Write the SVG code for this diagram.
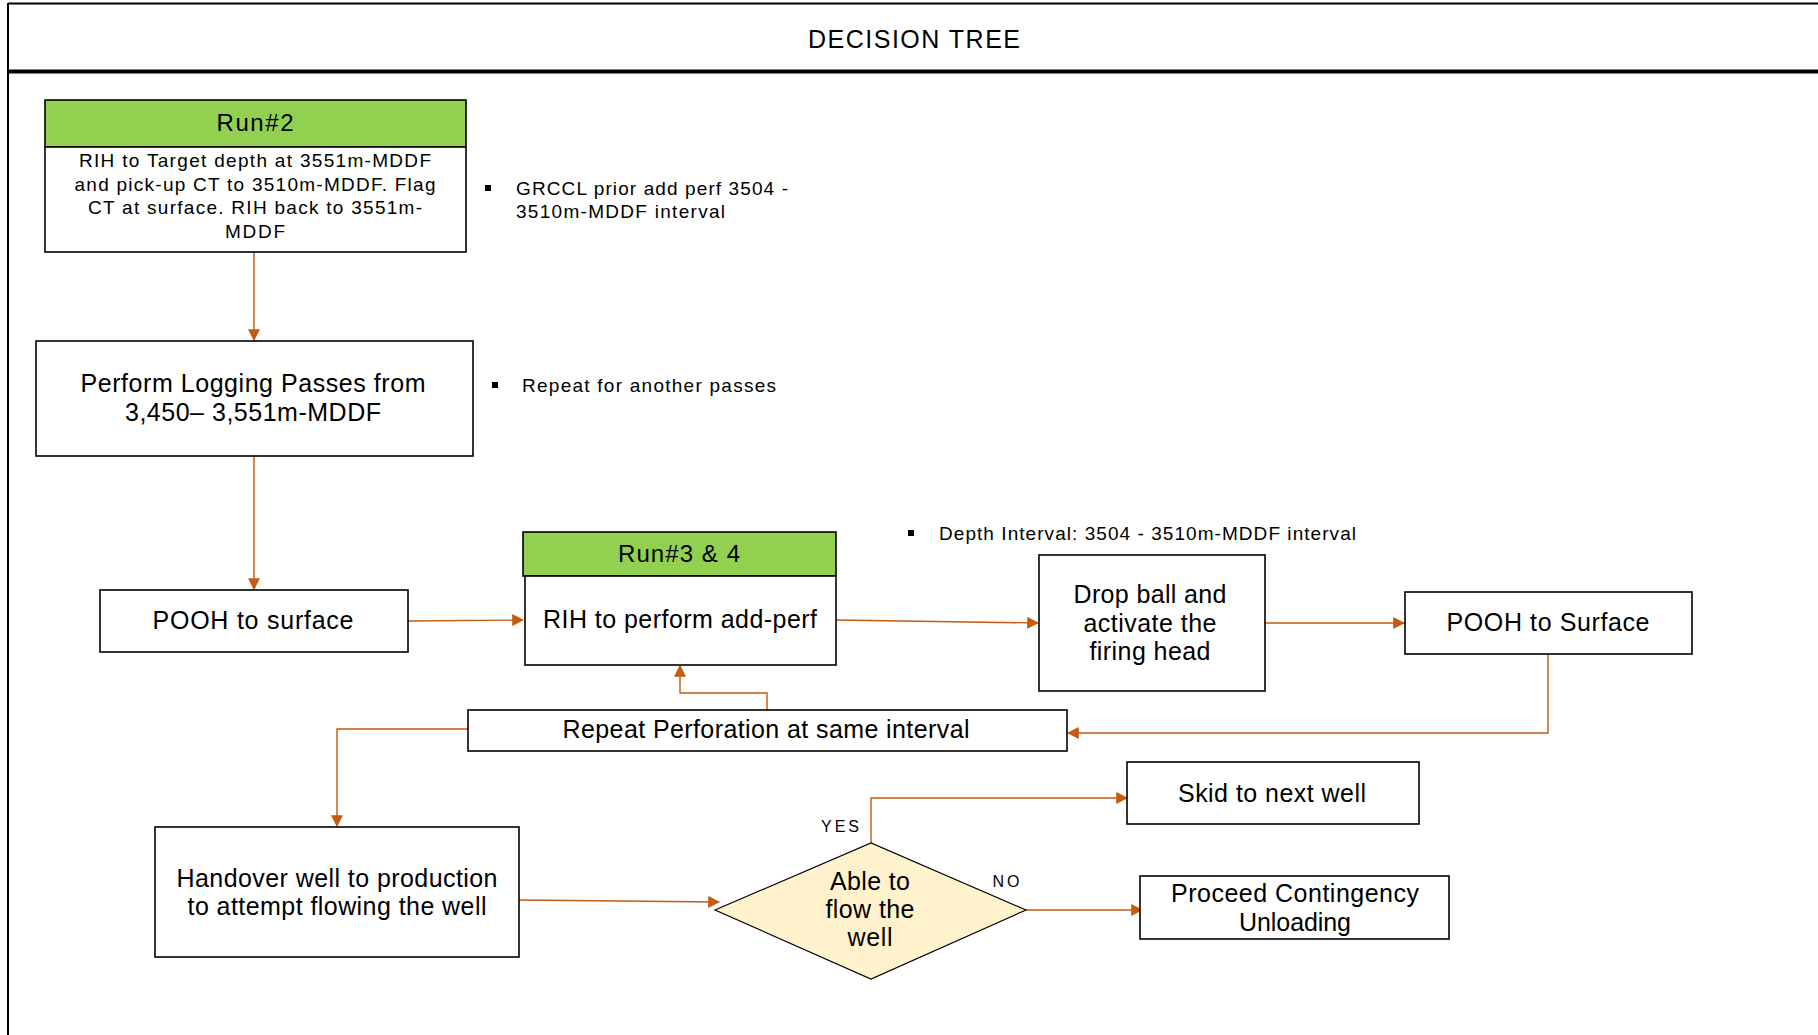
<svg xmlns="http://www.w3.org/2000/svg" width="1818" height="1035" viewBox="0 0 1818 1035">
<style>
.box{fill:#fff;stroke:#000;stroke-width:1.6}
.hdr{fill:#92D050;stroke:#000;stroke-width:1.6}
.dia{fill:#FFF2CC;stroke:#000;stroke-width:1.2}
.t{font-family:"Liberation Sans",Arial,sans-serif;fill:#000;text-anchor:middle}
.n{font-family:"Liberation Sans",Arial,sans-serif;fill:#000}
.c{fill:none;stroke:#C55A11;stroke-width:1.4}
</style>
<defs>
<marker id="ah" viewBox="0 0 10 10" refX="9" refY="5" markerWidth="12" markerHeight="12" markerUnits="userSpaceOnUse" orient="auto">
<path d="M0,0 L10,5 L0,10 z" fill="#C55A11"/>
</marker>
</defs>
<rect width="1818" height="1035" fill="#fff"/>
<g id="frame">
<line x1="8" y1="3.5" x2="1818" y2="3.5" stroke="#000" stroke-width="2"/>
<line x1="8" y1="3" x2="8" y2="1035" stroke="#000" stroke-width="2"/>
<line x1="8" y1="71.5" x2="1818" y2="71.5" stroke="#000" stroke-width="4"/>
<text class="t" x="914" y="48" font-size="25" textLength="212" lengthAdjust="spacing">DECISION TREE</text>
</g>
<g id="connectors">
<line class="c" x1="254" y1="252" x2="254" y2="340" marker-end="url(#ah)"/>
<line class="c" x1="254" y1="456" x2="254" y2="589" marker-end="url(#ah)"/>
<line class="c" x1="408" y1="621" x2="523" y2="620" marker-end="url(#ah)"/>
<line class="c" x1="836" y1="620" x2="1038" y2="623" marker-end="url(#ah)"/>
<line class="c" x1="1265" y1="623" x2="1404" y2="623" marker-end="url(#ah)"/>
<polyline class="c" points="1548,654 1548,733 1068,733" marker-end="url(#ah)"/>
<polyline class="c" points="767,710 767,693 680,693 680,666" marker-end="url(#ah)"/>
<polyline class="c" points="468,729 337,729 337,826" marker-end="url(#ah)"/>
<line class="c" x1="519" y1="900" x2="719" y2="902" marker-end="url(#ah)"/>
<polyline class="c" points="871,843 871,798 1127,798" marker-end="url(#ah)"/>
<line class="c" x1="1026" y1="910" x2="1142" y2="910" marker-end="url(#ah)"/>
<text class="t" x="840" y="832" font-size="16" textLength="38" lengthAdjust="spacing">YES</text>
<text class="t" x="1006" y="887" font-size="16" textLength="27" lengthAdjust="spacing">NO</text>
</g>
<g id="run2">
<rect class="hdr" x="45" y="100" width="421" height="47"/>
<rect class="box" x="45" y="147" width="421" height="105"/>
<text class="t" x="255" y="131" font-size="24" textLength="77" lengthAdjust="spacing">Run#2</text>
<text class="t" x="255" y="167" font-size="19" textLength="352" lengthAdjust="spacing">RIH to Target depth at 3551m-MDDF</text>
<text class="t" x="255" y="191" font-size="19" textLength="361" lengthAdjust="spacing">and pick-up CT to 3510m-MDDF. Flag</text>
<text class="t" x="255" y="214" font-size="19" textLength="334" lengthAdjust="spacing">CT at surface. RIH back to 3551m-</text>
<text class="t" x="255" y="238" font-size="19" textLength="60" lengthAdjust="spacing">MDDF</text>
</g>
<g id="note1">
<rect x="485" y="185" width="6" height="6" fill="#000"/>
<text class="n" x="516" y="195" font-size="19" textLength="272" lengthAdjust="spacing">GRCCL prior add perf 3504 -</text>
<text class="n" x="516" y="218" font-size="19" textLength="209" lengthAdjust="spacing">3510m-MDDF interval</text>
</g>
<g id="logging">
<rect class="box" x="36" y="341" width="437" height="115"/>
<text class="t" x="253" y="392" font-size="25" textLength="345" lengthAdjust="spacing">Perform Logging  Passes from</text>
<text class="t" x="253" y="421" font-size="25" textLength="256" lengthAdjust="spacing">3,450– 3,551m-MDDF</text>
</g>
<g id="note2">
<rect x="492" y="382" width="6" height="6" fill="#000"/>
<text class="n" x="522" y="392" font-size="19" textLength="254" lengthAdjust="spacing">Repeat for another passes</text>
</g>
<g id="pooh1">
<rect class="box" x="100" y="590" width="308" height="62"/>
<text class="t" x="253" y="629" font-size="25" textLength="201" lengthAdjust="spacing">POOH to surface</text>
</g>
<g id="run34">
<rect class="hdr" x="523" y="532" width="313" height="44"/>
<rect class="box" x="525" y="576" width="311" height="89"/>
<text class="t" x="679" y="562" font-size="24" textLength="122" lengthAdjust="spacing">Run#3 &amp; 4</text>
<text class="t" x="680" y="628" font-size="25" textLength="274" lengthAdjust="spacing">RIH to perform add-perf</text>
</g>
<g id="note3">
<rect x="908" y="530" width="6" height="6" fill="#000"/>
<text class="n" x="939" y="540" font-size="19" textLength="417" lengthAdjust="spacing">Depth Interval: 3504 - 3510m-MDDF interval</text>
</g>
<g id="dropball">
<rect class="box" x="1039" y="555" width="226" height="136"/>
<text class="t" x="1150" y="603" font-size="25" textLength="153" lengthAdjust="spacing">Drop ball and</text>
<text class="t" x="1150" y="632" font-size="25" textLength="133" lengthAdjust="spacing">activate the</text>
<text class="t" x="1150" y="660" font-size="25" textLength="121" lengthAdjust="spacing">firing head</text>
</g>
<g id="pooh2">
<rect class="box" x="1405" y="592" width="287" height="62"/>
<text class="t" x="1548" y="631" font-size="25" textLength="203" lengthAdjust="spacing">POOH to Surface</text>
</g>
<g id="repeat">
<rect class="box" x="468" y="710" width="599" height="41"/>
<text class="t" x="766" y="738" font-size="25" textLength="407" lengthAdjust="spacing">Repeat Perforation at same interval</text>
</g>
<g id="handover">
<rect class="box" x="155" y="827" width="364" height="130"/>
<text class="t" x="337" y="887" font-size="25" textLength="321" lengthAdjust="spacing">Handover  well to production</text>
<text class="t" x="337" y="915" font-size="25" textLength="299" lengthAdjust="spacing">to attempt flowing the well</text>
</g>
<g id="decision">
<polygon class="dia" points="715,910 871,843 1026,910 871,979"/>
<text class="t" x="870" y="890" font-size="25" textLength="80" lengthAdjust="spacing">Able to</text>
<text class="t" x="870" y="918" font-size="25" textLength="89" lengthAdjust="spacing">flow the</text>
<text class="t" x="870" y="946" font-size="25" textLength="45" lengthAdjust="spacing">well</text>
</g>
<g id="skid">
<rect class="box" x="1127" y="762" width="292" height="62"/>
<text class="t" x="1272" y="802" font-size="25" textLength="188" lengthAdjust="spacing">Skid to next well</text>
</g>
<g id="contingency">
<rect class="box" x="1140" y="876" width="309" height="63"/>
<text class="t" x="1295" y="902" font-size="25" textLength="248" lengthAdjust="spacing">Proceed Contingency</text>
<text class="t" x="1295" y="931" font-size="25" textLength="112" lengthAdjust="spacing">Unloading</text>
</g>
</svg>
